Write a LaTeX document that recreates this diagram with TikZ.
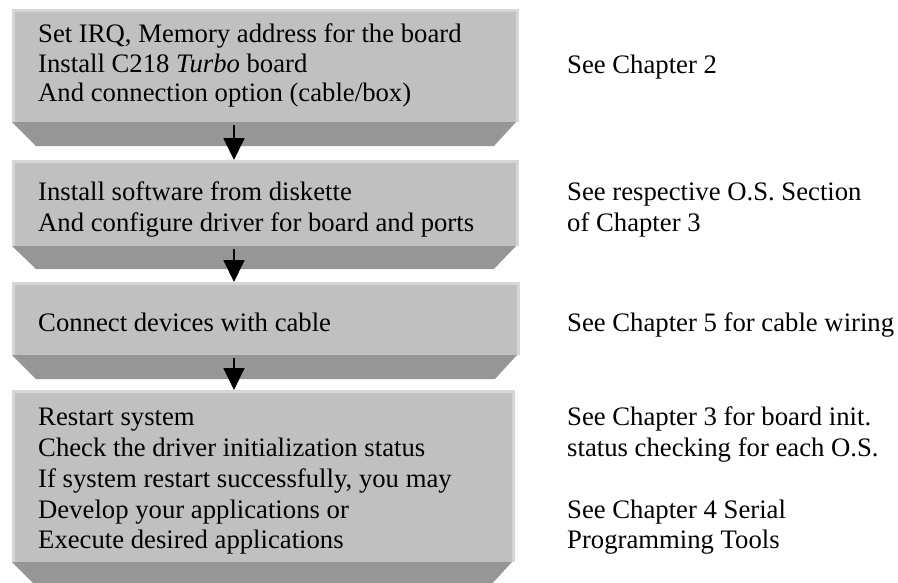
\documentclass[tikz,border=0pt]{standalone}
\usepackage{fontspec}
\setmainfont{Liberation Serif}
\usetikzlibrary{arrows.meta}
\definecolor{facegray}{RGB}{192,192,192}
\definecolor{bevelgray}{RGB}{150,150,150}
\definecolor{lightgray}{RGB}{214,214,214}
\tikzset{
  face/.style={fill=facegray, draw=none, inner sep=0pt, outer sep=0pt, anchor=north west},
  bevel/.style={fill=bevelgray, draw=none},
  hilite/.style={draw=lightgray, line width=3pt},
  txt/.style={anchor=base west, inner sep=0pt, font=\fontsize{26.7}{31}\selectfont},
  flow/.style={draw=black, line width=1.8pt, -{Triangle[width=21pt,length=22pt]}}
}
\newcommand{\facebox}[6]{% name, x1, y1, x2, y2, ybevel
  \node[face, minimum width=#4pt-#2pt, minimum height=#5pt-#3pt] (#1) at (#2,#3) {};
  \fill[bevel] (#1.south west) -- ([xshift=-3pt]#1.south east) -- (#4-25,#6) -- (#2+24,#6) -- cycle;
  \draw[hilite] ([xshift=1.5pt]#1.south west) -- ([xshift=1.5pt,yshift=-1.5pt]#1.north west) -- ([xshift=-1.5pt,yshift=-1.5pt]#1.north east) -- ([xshift=-1.5pt]#1.south east);
}
\begin{document}
\begin{tikzpicture}[x=1pt,y=-1pt]
\useasboundingbox (0,0) rectangle (898,582);
\facebox{b1}{12}{9}{519}{122}{146}
\facebox{b2}{12}{160}{519}{246}{269}
\facebox{b3}{12}{282}{520}{355}{379}
\facebox{b4}{12}{390}{515}{562}{586}

\node[txt] (t1a) at (38,42) {Set IRQ, Memory address for the board};
\node[txt] (t1b) at (38,72) {Install C218 \textit{Turbo} board};
\node[txt] (t1c) at (38,101) {And connection option (cable/box)};
\node[txt] (t2a) at (38,200.5) {Install software from diskette};
\node[txt] (t2b) at (38,231) {And configure driver for board and ports};
\node[txt] (t3a) at (38,331) {Connect devices with cable};
\node[txt] (t4a) at (38,425) {Restart system};
\node[txt] (t4b) at (38,456.5) {Check the driver initialization status};
\node[txt] (t4c) at (38,487) {If system restart successfully, you may};
\node[txt] (t4d) at (38,518) {Develop your applications or};
\node[txt] (t4e) at (38,548) {Execute desired applications};

\node[txt] (r1) at (567,73) {See Chapter 2};
\node[txt] (r2a) at (567,200.5) {See respective O.S. Section};
\node[txt] (r2b) at (567,231) {of Chapter 3};
\node[txt] (r3) at (567,331) {See Chapter 5 for cable wiring};
\node[txt] (r4a) at (567,425) {See Chapter 3 for board init.};
\node[txt] (r4b) at (567,456.5) {status checking for each O.S.};
\node[txt] (r5a) at (567,518) {See Chapter 4 Serial};
\node[txt] (r5b) at (567,548) {Programming Tools};

\coordinate (ax) at (234,0);
\draw[flow] ([yshift=-3pt]ax |- b1.south) -- (ax |- b2.north);
\draw[flow] ([yshift=-3pt]ax |- b2.south) -- (ax |- b3.north);
\draw[flow] ([yshift=-3pt]ax |- b3.south) -- (ax |- b4.north);
\end{tikzpicture}
\end{document}
